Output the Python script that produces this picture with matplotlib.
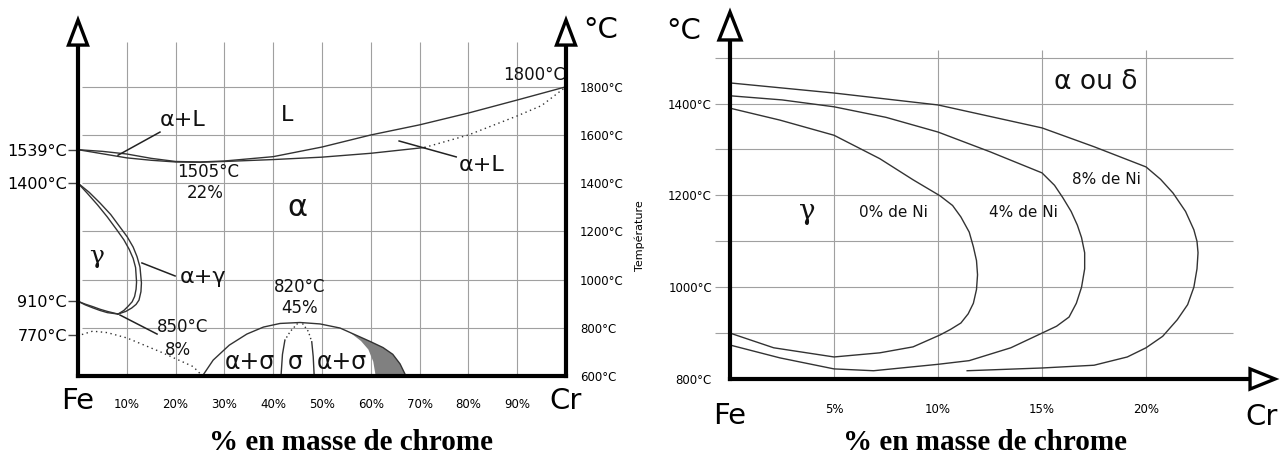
import matplotlib
matplotlib.use('Agg')
import matplotlib.pyplot as plt
from matplotlib.patches import Polygon

plt.rcParams['font.family'] = ['DejaVu Sans']

# ---------------- left diagram : Fe-Cr ----------------
# liquidus / solidus (% Cr, °C)
liq_x = [0, 5, 10, 15, 20, 25, 30, 40, 50, 60, 70, 80, 90, 100]
liq_t = [1539, 1532, 1521, 1503, 1490, 1488, 1492, 1510, 1550, 1600, 1642, 1691, 1745, 1800]
sol_x = [0, 5, 10, 15, 20, 25, 30, 40, 50, 60, 71]
sol_t = [1539, 1522, 1505, 1495, 1488, 1487, 1490, 1498, 1508, 1524, 1548]
sol_dot_x = [71, 80, 90, 95, 100]
sol_dot_t = [1548, 1600, 1679, 1722, 1800]

# gamma loop
loop_out_x = [0, 2.3, 4.5, 6.7, 8.6, 10.1, 11.3, 12.1, 12.7, 13.0, 12.9, 12.5, 11.9, 11.0, 9.8, 8.2]
loop_out_t = [1400, 1362, 1318, 1270, 1218, 1177, 1135, 1095, 1052, 986, 950, 915, 897, 882, 868, 857]
loop_in_x = [0, 2, 4, 6, 8, 9.4, 10.5, 11.3, 11.8, 12.0, 11.9, 11.6, 11.1, 10.3, 9.4, 8.2]
loop_in_t = [1400, 1356, 1310, 1260, 1205, 1165, 1125, 1088, 1050, 990, 960, 930, 908, 890, 872, 857]
low_a_x = [0, 1.5, 3, 4.5, 6, 8.2]
low_a_t = [910, 898, 888, 877, 868, 857]
low_b_x = [0, 1.5, 3, 4.5, 6, 8.2]
low_b_t = [910, 895, 883, 872, 863, 857]

# Curie line (dotted)
curie_x = [0.8, 3, 6, 10, 16.8, 23.6, 25.5]
curie_t = [772, 786, 780, 758, 701, 639, 600]

# sigma dome
dome_x = [25.5, 27.7, 31, 34.6, 38, 41.4, 45.5, 49.6, 53.7, 57.8, 60, 62.5, 64.5, 66, 67.2]
dome_t = [600, 666, 728, 774, 803, 818, 822, 816, 799, 762, 742, 718, 690, 650, 600]
sig_l_dot_x = [45.0, 43.5, 42.4]
sig_l_dot_t = [818, 785, 749]
sig_l_x = [42.4, 41.9, 41.6]
sig_l_t = [749, 690, 600]
sig_r_dot_x = [46.0, 47.2, 47.9]
sig_r_dot_t = [818, 785, 742]
sig_r_x = [47.9, 48.2, 48.4]
sig_r_t = [742, 680, 600]
gray_x = [55.7, 57.8, 60, 62.5, 64.5, 66, 67.2, 61, 60.5, 59.5, 58, 55.7]
gray_t = [781, 762, 742, 718, 690, 650, 600, 600, 660, 710, 745, 781]

left_ticks = [1539, 1400, 910, 770]
right_ticks = [600, 800, 1000, 1200, 1400, 1600, 1800]
cr_ticks = [10, 20, 30, 40, 50, 60, 70, 80, 90]

# ---------------- right diagram : Fe-Cr-Ni gamma loops ----------------
ni0_x = [0, 2.4, 5, 7.2, 8.8, 10.1, 10.7, 11.1, 11.5, 11.7, 11.85, 11.9, 11.85, 11.7, 11.45, 11.1, 10.6,
         10.1, 8.8, 7.2, 5, 2.1, 0]
ni0_t = [1390, 1364, 1331, 1280, 1234, 1199, 1178, 1153, 1120, 1088, 1058, 1027, 995, 965, 942, 922, 908,
         896, 870, 857, 848, 868, 900]
ni4_x = [0, 2.5, 5, 7.5, 10, 12.5, 15, 15.6, 16, 16.4, 16.7, 16.9, 17.05, 17.05, 16.9, 16.65, 16.3, 15.7,
         15, 13.5, 11.5, 10, 6.9, 5, 2.4, 0]
ni4_t = [1417, 1408, 1393, 1370, 1338, 1295, 1249, 1222, 1195, 1165, 1135, 1108, 1075, 1040, 1000, 965,
         935, 915, 900, 868, 840, 832, 818, 822, 846, 874]
ni8_x = [0, 5, 10, 15, 17.5, 20, 20.7, 21.3, 21.9, 22.3, 22.45, 22.5, 22.45, 22.3, 22.0, 21.5, 20.8, 20,
         19.1, 17.5, 15, 11.4]
ni8_t = [1445, 1423, 1397, 1347, 1306, 1262, 1235, 1205, 1165, 1125, 1100, 1075, 1040, 1000, 962, 929, 893,
         868, 848, 830, 824, 818]
temp_ticks = [800, 1000, 1200, 1400]
pct_ticks = [5, 10, 15, 20]

W, H = 1287, 455
fig = plt.figure(figsize=(W / 100, H / 100), dpi=100)


def box(x0, y0, x1, y1):
    return [x0 / W, 1 - y1 / H, (x1 - x0) / W, (y1 - y0) / H]


CURVE = '#333333'
GRID = '#a0a0a0'

# ===== left axes =====
ax = fig.add_axes(box(78, 20, 566, 376))
ax.set_xlim(0, 100)
ax.set_ylim(600, 2077)
ax.spines['top'].set_visible(False)
for s in ['left', 'right', 'bottom']:
    ax.spines[s].set_linewidth(3)
    ax.spines[s].set_color('black')
ax.spines['left'].set_bounds(600, 1973)
ax.spines['right'].set_bounds(600, 1973)
ax.spines['bottom'].set_bounds(0, 100)

ax.vlines(cr_ticks, 600, 1986, color=GRID, lw=0.8, zorder=0)
ax.hlines(right_ticks[1:], 0.8, 100, color=GRID, lw=0.8, zorder=0)

ax.plot(liq_x, liq_t, color=CURVE, lw=1)
ax.plot(sol_x, sol_t, color=CURVE, lw=1)
ax.plot(sol_dot_x, sol_dot_t, color=CURVE, lw=1, ls=(0, (1, 2.5)))
ax.plot(loop_out_x, loop_out_t, color=CURVE, lw=1)
ax.plot(loop_in_x, loop_in_t, color=CURVE, lw=1)
ax.plot(low_a_x, low_a_t, color=CURVE, lw=1)
ax.plot(low_b_x, low_b_t, color=CURVE, lw=1)
ax.plot(curie_x, curie_t, color=CURVE, lw=1, ls=(0, (1, 2.5)))
ax.plot(dome_x, dome_t, color=CURVE, lw=1)
ax.plot(sig_l_dot_x, sig_l_dot_t, color=CURVE, lw=1, ls=(0, (1, 2)))
ax.plot(sig_l_x, sig_l_t, color=CURVE, lw=1)
ax.plot(sig_r_dot_x, sig_r_dot_t, color=CURVE, lw=1, ls=(0, (1, 2)))
ax.plot(sig_r_x, sig_r_t, color=CURVE, lw=1)
ax.fill(gray_x, gray_t, color='#808080', lw=0)

# leader lines
lead = dict(color='#222222', lw=1.1)
ax.plot([16.8, 8.2], [1612, 1516], **lead)
ax.plot([65.8, 77.5], [1575, 1509], **lead)
ax.plot([13.1, 19.9], [1069, 1015], **lead)
ax.plot([8.6, 16.2], [853, 774], **lead)

txt = dict(ha='center', va='center', color='#111111')
ax.text(21.5, 1662, 'α+L', fontsize=16, **txt)
ax.text(42.8, 1683, 'L', fontsize=16, **txt)
ax.text(26.6, 1446, '1505°C', fontsize=12, **txt)
ax.text(26.0, 1359, '22%', fontsize=12, **txt)
ax.text(45.0, 1301, 'α', fontsize=22, **txt)
ax.text(82.8, 1475, 'α+L', fontsize=16, **txt)
ax.text(99.8, 1849, '1800°C', fontsize=12, ha='right', va='center', color='#111111')
ax.text(3.9, 1094, 'γ', fontsize=18, family='DejaVu Serif', **txt)
ax.text(25.6, 1011, 'α+γ', fontsize=16, **txt)
ax.text(21.5, 803, '850°C', fontsize=12, **txt)
ax.text(20.5, 708, '8%', fontsize=12, **txt)
ax.text(45.5, 969, '820°C', fontsize=12, **txt)
ax.text(45.5, 882, '45%', fontsize=12, **txt)
ax.text(35.2, 660, 'α+σ', fontsize=17, **txt)
ax.text(44.6, 660, 'σ', fontsize=17, **txt)
ax.text(54.1, 660, 'α+σ', fontsize=17, **txt)

# arrow heads
for x0 in (0, 100):
    ax.add_patch(Polygon([[x0, 2077], [x0 - 1.95, 1973], [x0 + 1.95, 1973]], closed=True,
                         facecolor='white', edgecolor='black', lw=2.4, clip_on=False, zorder=5))

ax.set_yticks(left_ticks)
ax.set_yticklabels([f'{v}°C' for v in left_ticks])
ax.tick_params(axis='y', length=7, width=1, color='#444444', labelsize=11.5, pad=1)
ax.set_xticks(cr_ticks)
ax.set_xticklabels([f'{v}%' for v in cr_ticks])
ax.tick_params(axis='x', length=0, labelsize=8.5, pad=16)

tw = ax.twinx()
tw.set_ylim(ax.get_ylim())
tw.set_yticks(right_ticks)
tw.set_yticklabels([f'{v}°C' for v in right_ticks])
tw.tick_params(length=0, labelsize=8.5, pad=10)
for s in tw.spines.values():
    s.set_visible(False)

# ===== right axes =====
ax2 = fig.add_axes(box(730, 12, 1275, 379))
ax2.set_xlim(0, 26.2)
ax2.set_ylim(800, 1599.5)
ax2.spines['top'].set_visible(False)
ax2.spines['right'].set_visible(False)
for s in ['left', 'bottom']:
    ax2.spines[s].set_linewidth(3)
    ax2.spines[s].set_color('black')
ax2.spines['left'].set_bounds(800, 1538.6)
ax2.spines['bottom'].set_bounds(0, 25)

ax2.vlines(pct_ticks, 800, 1517, color=GRID, lw=0.8, zorder=0)
ax2.hlines(range(900, 1501, 100), -0.72, 24.2, color=GRID, lw=0.8, zorder=0, clip_on=False)

for xs, ts in ((ni0_x, ni0_t), (ni4_x, ni4_t), (ni8_x, ni8_t)):
    ax2.plot(xs, ts, color=CURVE, lw=1)

ax2.text(3.7, 1165, 'γ', fontsize=20, family='DejaVu Serif', **txt)
ax2.text(7.84, 1162, '0% de Ni', fontsize=11, **txt)
ax2.text(14.1, 1162, '4% de Ni', fontsize=11, **txt)
ax2.text(18.1, 1234, '8% de Ni', fontsize=11, **txt)
ax2.text(17.6, 1447, 'α ou δ', fontsize=19, **txt)

ax2.add_patch(Polygon([[0, 1599.5], [-0.53, 1538.6], [0.53, 1538.6]], closed=True,
                      facecolor='white', edgecolor='black', lw=2.4, clip_on=False, zorder=5))
ax2.add_patch(Polygon([[26.2, 800], [25, 778], [25, 822]], closed=True,
                      facecolor='white', edgecolor='black', lw=2.4, clip_on=False, zorder=5))

ax2.set_yticks(temp_ticks)
ax2.set_yticklabels([f'{v}°C' for v in temp_ticks])
ax2.tick_params(axis='y', length=0, labelsize=8.5, pad=13)
ax2.set_xticks(pct_ticks)
ax2.set_xticklabels([f'{v}%' for v in pct_ticks])
ax2.tick_params(axis='x', length=0, labelsize=8.5, pad=17)
ax2.set_ylabel('Température', fontsize=8)
ax2.yaxis.set_label_coords(-0.156, 0.392)

# big axis letters and titles
big = dict(ha='center', va='center', fontsize=21, color='black')
fig.text(78 / W, 1 - 401 / H, 'Fe', **big)
fig.text(566 / W, 1 - 401 / H, 'Cr', **big)
fig.text(601 / W, 1 - 30 / H, '°C', **big)
fig.text(730 / W, 1 - 416 / H, 'Fe', **big)
fig.text(1262 / W, 1 - 417 / H, 'Cr', **big)
fig.text(684 / W, 1 - 31 / H, '°C', **big)

ttl = dict(ha='center', va='center', fontsize=21, fontweight='bold', family='Liberation Serif')
fig.text(351 / W, 1 - 442 / H, '% en masse de chrome', **ttl)
fig.text(985 / W, 1 - 442 / H, '% en masse de chrome', **ttl)

fig.savefig('out.png', dpi=100)
